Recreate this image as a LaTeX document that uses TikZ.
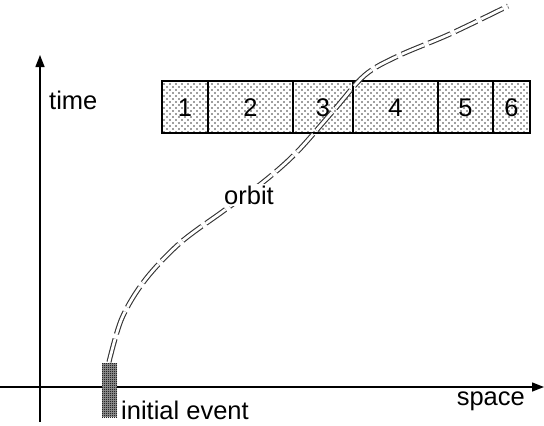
\documentclass[tikz,border=0pt]{standalone}
\usepackage{fontspec}
\setmainfont{Liberation Sans}
\usetikzlibrary{patterns.meta,arrows.meta}
\begin{document}
\begin{tikzpicture}[x=1pt,y=-1pt,
  lbl/.style={font=\fontsize{25.5}{28}\selectfont, inner sep=1pt},
  axis/.style={line width=1.4pt, -{Triangle[length=12pt,width=9pt]}},
  dot/.style={fill=black!75, draw=none},
  orbitline/.style={draw=black!80, line width=1.1pt, double=white, double distance=2.8pt,
    dash pattern=on 24pt off 5pt}]
\useasboundingbox (0,0) rectangle (544,426);
% axes
\coordinate (xs) at (0,387);
\coordinate (xe) at (544,387);
\coordinate (ys) at (40,422);
\coordinate (ye) at (40,55);
\draw[axis] (xs) -- (xe);
\draw[axis] (ys) -- (ye);
\node[lbl, anchor=west] (time) at (48,100) {time};
\node[lbl, anchor=east] (space) at (526,401) {space};
% boxes
\fill[white] (162,81) rectangle (530,133);
\begin{scope}
  \clip (162,81) rectangle (530,133);
  \foreach \i in {0,...,61} {
    \foreach \j in {0,...,8} {
      \fill[dot] (164+6*\i,84+6*\j) circle (0.85pt);
      \fill[dot] (167+6*\i,87+6*\j) circle (0.85pt);
    }
  }
\end{scope}
\draw[line width=1.2pt] (162,81) rectangle (530,133);
\foreach \x in {208,293,353,438,493} \draw[line width=1.2pt] (\x,81) -- (\x,133);
\node[lbl] (b1) at (185,108) {1};
\node[lbl] (b2) at (250.5,108) {2};
\node[lbl] (b3) at (323,108) {3};
\node[lbl] (b4) at (395.5,108) {4};
\node[lbl] (b5) at (465.5,108) {5};
\node[lbl] (b6) at (511.5,108) {6};
% initial event
\fill[black!45] (102,363) rectangle (117,417);
\begin{scope}
  \clip (102,363) rectangle (117,417);
  \foreach \i in {0,...,7} {
    \foreach \j in {0,...,27} {
      \fill[black!85] (102.5+2*\i,363.5+2*\j) circle (0.6pt);
    }
  }
\end{scope}
\node[lbl, anchor=west] (init) at (120,410) {initial event};
% orbit
\draw[orbitline] plot[smooth, tension=0.55] coordinates {(109,362) (122,318) (145,280) (180,243) (222,212) (262,183) (296,153) (334,110) (365,75) (398,56) (450,34) (508,6)};
\node[lbl, fill=white, inner sep=2pt] (orbit) at (249,195) {orbit};
\end{tikzpicture}
\end{document}
